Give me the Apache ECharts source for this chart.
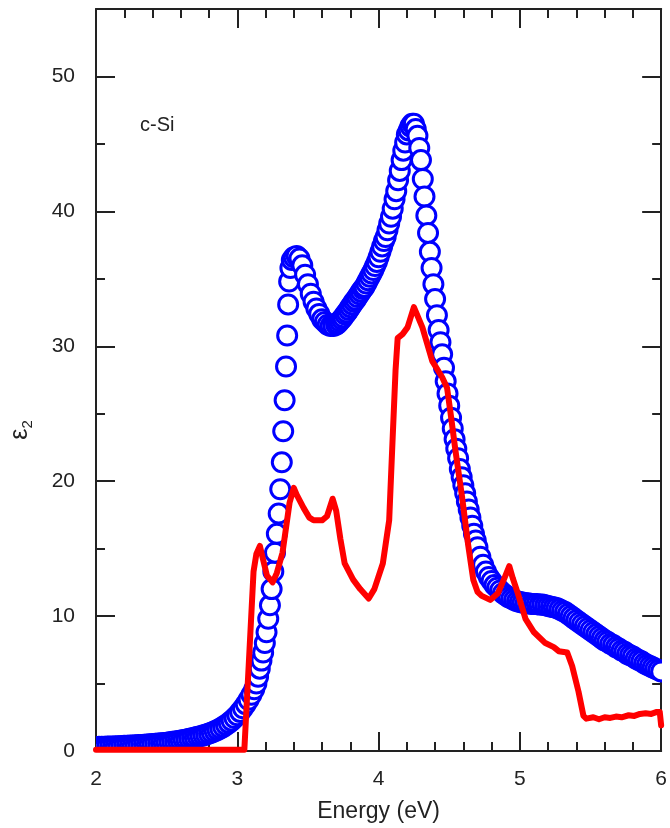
<!DOCTYPE html>
<html><head><meta charset="utf-8">
<script src="https://cdn.jsdelivr.net/npm/echarts@6/dist/echarts.min.js"></script>
<style>html,body{margin:0;padding:0;background:#fff}#c{width:670px;height:828px}</style>
</head><body><div id="c"></div>
<script>
// ---- data ----
const blueEnergy = [
 2.00,2.02,2.04,2.06,2.08,2.10,2.12,2.14,2.16,2.18,
 2.20,2.22,2.24,2.26,2.28,2.30,2.32,2.34,2.36,2.38,
 2.40,2.42,2.44,2.46,2.48,2.50,2.52,2.54,2.56,2.58,
 2.60,2.62,2.64,2.66,2.68,2.70,2.72,2.74,2.76,2.78,
 2.80,2.82,2.84,2.86,2.88,2.90,2.92,2.94,2.96,2.98,
 3.00,3.02,3.04,3.06,3.08,3.10,3.12,
 3.135,3.147,3.159,3.171,3.183,3.195,3.207,3.219,3.231,3.243,3.255,3.267,3.280,
 3.293,3.304,3.315,3.325,3.335,3.345,3.353,3.360,3.367,3.376,3.386,
 3.40,3.42,3.44,3.46,3.48,3.50,3.52,3.54,3.56,3.58,
 3.60,3.62,3.64,3.66,3.68,
 3.700,3.713,3.725,3.738,3.750,3.763,3.775,3.788,3.800,3.813,3.825,3.838,
 3.850,3.863,3.875,3.888,3.900,3.913,3.925,3.938,3.950,3.963,3.975,3.988,
 4.000,4.013,4.025,4.038,4.050,4.063,4.075,4.088,4.100,4.113,4.125,4.138,4.150,
 4.163,4.175,4.188,4.200,4.213,4.225,4.238,4.250,4.263,
 4.275,4.288,4.300,4.313,4.325,4.338,4.350,4.363,4.375,4.388,
 4.400,4.413,4.425,4.438,4.450,4.463,4.475,4.488,4.500,4.513,
 4.525,4.538,4.550,4.563,4.575,4.588,4.600,4.613,4.625,4.638,
 4.650,4.663,4.675,4.688,4.700,
 4.72,4.74,4.76,4.78,4.80,4.82,4.84,4.86,4.88,4.90,
 4.92,4.94,4.96,4.98,5.00,5.02,5.04,5.06,5.08,5.10,
 5.12,5.14,5.16,5.18,5.20,5.22,5.24,5.26,5.28,5.30,
 5.32,5.34,5.36,5.38,5.40,5.42,5.44,5.46,5.48,5.50,
 5.52,5.54,5.56,5.58,5.60,5.62,5.64,5.66,5.68,5.70,
 5.72,5.74,5.76,5.78,5.80,5.82,5.84,5.86,5.88,5.90,
 5.92,5.94,5.96,5.98,6.00
];
const blueEps2 = [
 0.30,0.31,0.31,0.32,0.33,0.33,0.34,0.35,0.36,0.37,
 0.38,0.39,0.40,0.41,0.42,0.44,0.45,0.47,0.48,0.50,
 0.52,0.54,0.56,0.58,0.60,0.62,0.65,0.68,0.71,0.74,
 0.78,0.82,0.86,0.90,0.95,1.00,1.05,1.10,1.16,1.22,
 1.29,1.37,1.46,1.56,1.67,1.79,1.93,2.08,2.25,2.44,
 2.65,2.90,3.17,3.47,3.80,4.17,4.57,
 5.0,5.5,6.1,6.7,7.3,8.0,8.8,9.8,10.8,12.0,13.3,14.7,16.1,
 17.6,19.4,21.4,23.7,26.0,28.5,30.8,33.1,34.8,35.8,36.4,
 36.6,36.7,36.5,36.0,35.3,34.6,33.9,33.3,32.8,32.4,
 32.0,31.8,31.6,31.5,31.5,
 31.6,31.7,31.85,32.0,32.15,32.35,32.5,32.7,32.9,33.1,33.3,33.45,
 33.65,33.85,34.05,34.25,34.4,34.65,34.9,35.15,35.4,35.65,35.95,36.25,
 36.6,37.0,37.4,37.8,38.1,38.6,39.1,39.6,40.2,40.9,41.5,42.3,43.0,
 43.8,44.5,45.1,45.7,46.0,46.3,46.5,46.5,46.1,
 45.6,44.7,43.8,42.4,41.1,39.7,38.4,37.0,35.8,34.6,
 33.5,32.3,31.2,30.3,29.4,28.4,27.4,26.5,25.6,24.7,
 23.9,23.1,22.4,21.7,20.9,20.3,19.7,19.1,18.5,17.9,
 17.3,16.7,16.1,15.6,15.1,
 14.4,13.8,13.3,12.9,12.6,12.3,12.1,11.9,11.7,11.55,
 11.4,11.3,11.2,11.1,11.05,11.0,10.95,10.95,10.9,10.9,
 10.9,10.85,10.85,10.8,10.75,10.7,10.65,10.6,10.5,10.4,
 10.3,10.15,10.0,9.85,9.7,9.55,9.4,9.25,9.1,8.95,
 8.8,8.65,8.5,8.35,8.2,8.1,7.95,7.85,7.7,7.6,
 7.45,7.35,7.2,7.1,7.0,6.85,6.75,6.65,6.5,6.4,
 6.3,6.2,6.1,6.0,5.9
];
const redEnergy = [
 2.00,3.05,3.115,3.135,3.16,3.18,3.21,3.25,3.28,3.32,3.37,3.40,3.42,3.47,3.51,3.54,3.60,3.635,
 3.675,3.70,3.73,3.76,3.82,3.87,3.93,3.97,4.03,4.075,4.10,4.12,4.135,4.17,4.205,4.25,4.31,
 4.38,4.45,4.485,4.51,4.545,4.59,4.635,4.67,4.70,4.73,4.79,4.845,4.89,4.925,4.95,4.985,
 5.04,5.10,5.18,5.24,5.275,5.335,5.37,5.415,5.45,5.47,5.52,5.56,5.60,5.64,5.68,5.72,
 5.77,5.81,5.85,5.89,5.93,5.97,5.99,6.00
];
const redEps2 = [
 0.1,0.1,13.3,14.6,15.2,14.3,13.0,12.5,13.2,14.7,18.4,19.5,19.0,18.0,17.3,17.1,17.1,17.4,
 18.7,17.8,15.7,13.9,12.7,12.0,11.3,12.0,13.9,17.1,23.3,28.2,30.6,30.9,31.4,32.9,31.4,
 28.9,27.7,26.9,25.0,22.2,18.9,15.2,12.7,11.8,11.5,11.2,11.7,12.8,13.7,12.8,11.7,
 9.8,8.8,8.0,7.7,7.4,7.3,6.3,4.4,2.6,2.4,2.5,2.35,2.5,2.45,2.55,2.5,
 2.65,2.6,2.75,2.8,2.75,2.9,2.9,1.9
];
const xMajorTicks = 1, xMinorTicks = 0.2, yMajorTicks = 10, yMinorTicks = 5;

const FONT = "'Liberation Sans', Arial, sans-serif";
const AX = '#222';
function xAxisDef(pos, interval, len, main) {
  return {
    type: 'value', min: 2, max: 6, interval: interval, position: pos,
    axisLine: {show: main, onZero: false, lineStyle: {color: AX, width: 2}},
    axisTick: {show: true, inside: true, length: len, lineStyle: {color: AX, width: 2}},
    axisLabel: {show: main && pos === 'bottom', fontSize: 21, color: AX, margin: 18, fontFamily: FONT},
    splitLine: {show: false},
    name: (main && pos === 'bottom') ? 'Energy (eV)' : '',
    nameLocation: 'middle', nameGap: 49,
    nameTextStyle: {fontSize: 23, color: AX, fontFamily: FONT}
  };
}
function yAxisDef(pos, interval, len, main) {
  return {
    type: 'value', min: 0, max: 55, interval: interval, position: pos,
    axisLine: {show: main, onZero: false, lineStyle: {color: AX, width: 2}},
    axisTick: {show: true, inside: true, length: len, lineStyle: {color: AX, width: 2}},
    axisLabel: {show: main && pos === 'left', fontSize: 21, color: AX, margin: 21, fontFamily: FONT, showMaxLabel: false},
    splitLine: {show: false}
  };
}

const chart = echarts.init(document.getElementById('c'), null, {renderer: 'canvas'});
chart.setOption({
  animation: false,
  backgroundColor: '#fff',
  grid: {left: 96, right: 1.5, top: 9, bottom: 71.5, containLabel: false},
  xAxis: [
    xAxisDef('bottom', xMajorTicks, 19, true),
    xAxisDef('bottom', xMinorTicks, 9, false),
    xAxisDef('top', xMajorTicks, 19, true),
    xAxisDef('top', xMinorTicks, 9, false)
  ],
  yAxis: [
    yAxisDef('left', yMajorTicks, 19, true),
    yAxisDef('left', yMinorTicks, 9, false),
    yAxisDef('right', yMajorTicks, 19, true),
    yAxisDef('right', yMinorTicks, 9, false)
  ],
  graphic: [
    {
      type: 'text', left: 140, top: 115,
      style: {text: 'c-Si', font: '20px ' + FONT, fill: AX}
    },
    {
      type: 'text', x: 20, y: 430, rotation: Math.PI / 2,
      style: {
        text: '{e|ε}{s|2}', align: 'center', verticalAlign: 'middle', fill: AX,
        rich: {
          e: {fontSize: 25, fontFamily: FONT, fill: AX, verticalAlign: 'middle', lineHeight: 30},
          s: {fontSize: 15, fontFamily: FONT, fill: AX, verticalAlign: 'bottom', lineHeight: 30}
        }
      }
    }
  ],
  series: [
    {
      type: 'custom', xAxisIndex: 0, yAxisIndex: 0,
      data: blueEnergy.map((e, i) => [e, blueEps2[i]]),
      encode: {x: 0, y: 1},
      clip: true, z: 2, silent: true,
      renderItem: function (params, api) {
        const p = api.coord([api.value(0), api.value(1)]);
        return {
          type: 'circle',
          shape: {cx: p[0], cy: p[1], r: 9.5},
          style: {fill: '#ffffff', stroke: '#0000ff', lineWidth: 3}
        };
      }
    },
    {
      type: 'line', xAxisIndex: 0, yAxisIndex: 0,
      data: redEnergy.map((e, i) => [e, redEps2[i]]),
      symbol: 'none', showSymbol: false, clip: true,
      lineStyle: {color: '#ff0000', width: 6, join: 'round', cap: 'round'},
      z: 3, silent: true
    }
  ]
});
</script>
</body></html>
